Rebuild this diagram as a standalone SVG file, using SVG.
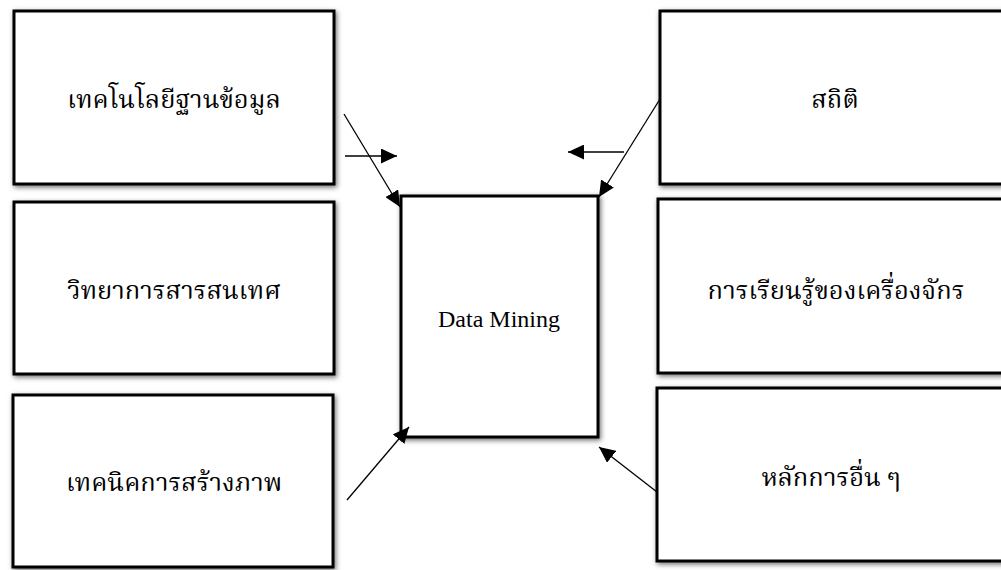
<svg xmlns="http://www.w3.org/2000/svg" width="1001" height="570" viewBox="0 0 1001 570">
  <defs>
    <filter id="shadow" x="-10%" y="-10%" width="120%" height="120%">
      <feDropShadow dx="1.5" dy="2" stdDeviation="2.5" flood-color="#000" flood-opacity="0.55"/>
    </filter>
    <marker id="arrow" viewBox="0 0 10 10" refX="10" refY="5" markerWidth="16" markerHeight="15" markerUnits="userSpaceOnUse" orient="auto" preserveAspectRatio="none">
      <path d="M0,0 L10,5 L0,10 Z" fill="#000"/>
    </marker>
  </defs>
  <style>
    .box { fill: #fff; stroke: #000; stroke-width: 3; filter: url(#shadow); }
    .label { font-family: "Liberation Serif", "Noto Serif Thai", "Noto Sans Thai", serif; font-size: 25.5px; fill: #000; text-anchor: middle; }
    .en { font-family: "Liberation Serif", serif; font-size: 24px; fill: #000; text-anchor: middle; }
    .conn { stroke: #000; stroke-width: 1.3; fill: none; marker-end: url(#arrow); }
  </style>
  <rect width="1001" height="570" fill="#fff"/>

  <!-- left column -->
  <g id="db-tech">
    <rect class="box" x="14" y="11" width="320" height="173"/>
    <text class="label" x="174" y="108">เทคโนโลยีฐานข้อมูล</text>
  </g>
  <g id="info-science">
    <rect class="box" x="14" y="202" width="320" height="172"/>
    <text class="label" x="174" y="299">วิทยาการสารสนเทศ</text>
  </g>
  <g id="visualization">
    <rect class="box" x="13" y="395" width="320" height="172"/>
    <text class="label" x="174" y="491">เทคนิคการสร้างภาพ</text>
  </g>

  <!-- centre -->
  <g id="data-mining">
    <rect class="box" x="401" y="196" width="197" height="241"/>
    <text class="en" x="499" y="327">Data Mining</text>
  </g>

  <!-- right column -->
  <g id="statistics">
    <rect class="box" x="660" y="11" width="352" height="173"/>
    <text class="label" x="835" y="108">สถิติ</text>
  </g>
  <g id="machine-learning">
    <rect class="box" x="658" y="199" width="352" height="174"/>
    <text class="label" x="836" y="299">การเรียนรู้ของเครื่องจักร</text>
  </g>
  <g id="other">
    <rect class="box" x="657" y="388" width="352" height="173"/>
    <text class="label" x="831" y="486">หลักการอื่น ๆ</text>
  </g>

  <!-- connectors -->
  <g id="connectors">
    <line class="conn" x1="344" y1="114" x2="400" y2="207"/>
    <line class="conn" x1="345" y1="156" x2="397" y2="156"/>
    <line class="conn" x1="624" y1="152" x2="568" y2="152"/>
    <line class="conn" x1="660" y1="99" x2="599" y2="197"/>
    <line class="conn" x1="347" y1="500" x2="409" y2="427"/>
    <line class="conn" x1="657" y1="492" x2="599" y2="447"/>
  </g>
</svg>
